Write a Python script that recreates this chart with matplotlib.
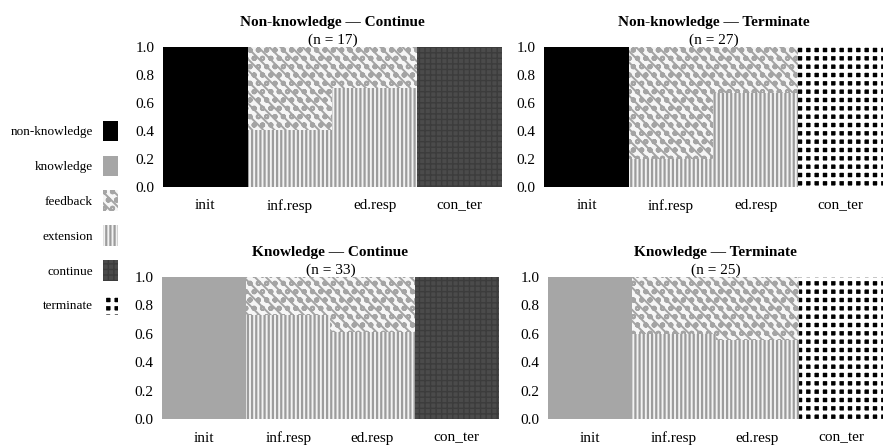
import matplotlib.pyplot as plt
from matplotlib.patches import Patch

plt.rcParams['font.family'] = ['Liberation Serif', 'DejaVu Serif']
plt.rcParams['hatch.linewidth'] = 1.0

# Stages of an exchange and the four groups
stages = ['init', 'inf.resp', 'ed.resp', 'con_ter']
init_type = ['non-knowledge', 'non-knowledge', 'knowledge', 'knowledge']
end_type = ['continue', 'terminate', 'continue', 'terminate']
titles = ['Non-knowledge — Continue', 'Non-knowledge — Terminate',
          'Knowledge — Continue', 'Knowledge — Terminate']
n_counts = [17, 27, 33, 25]

# Share of extension moves in the two response stages (rest is feedback)
ext_inf_resp = [0.41, 0.20, 0.73, 0.60]
ext_ed_resp = [0.71, 0.67, 0.61, 0.56]

# Fill, hatch and hatch width for every category
styles = {
    'non-knowledge': dict(facecolor='black', hatch=None, edgecolor='black', hlw=1.0),
    'knowledge': dict(facecolor='#a6a6a6', hatch=None, edgecolor='#a6a6a6', hlw=1.0),
    'feedback': dict(facecolor='#f6f6f6', hatch='oo\\\\\\', edgecolor='#a4a4a4', hlw=1.4),
    'extension': dict(facecolor='#f2f2f2', hatch='||||', edgecolor='#9c9c9c', hlw=1.6),
    'continue': dict(facecolor='#4b4b4b', hatch='+++', edgecolor='#3c3c3c', hlw=1.0),
    'terminate': dict(facecolor='black', hatch='++', edgecolor='white', hlw=2.8),
}

fig = plt.figure(figsize=(8.89, 4.45), dpi=100)
positions = [
    [0.1834, 0.5798, 0.381, 0.3146],
    [0.612, 0.5798, 0.381, 0.3146],
    [0.1822, 0.0584, 0.379, 0.319],
    [0.6164, 0.0584, 0.377, 0.319],
]


def styled(artist, cat):
    if hasattr(artist, 'set_hatch_linewidth'):
        artist.set_hatch_linewidth(styles[cat]['hlw'])
    return artist


def draw_bar(ax, x, bottom, height, cat):
    st = styles[cat]
    bars = ax.bar(x, height, bottom=bottom, width=1.0, facecolor=st['facecolor'],
                  edgecolor=st['edgecolor'], hatch=st['hatch'], linewidth=0)
    for b in bars:
        styled(b, cat)


for i, pos in enumerate(positions):
    ax = fig.add_axes(pos)
    draw_bar(ax, 0, 0, 1.0, init_type[i])
    draw_bar(ax, 1, 0, ext_inf_resp[i], 'extension')
    draw_bar(ax, 1, ext_inf_resp[i], 1 - ext_inf_resp[i], 'feedback')
    draw_bar(ax, 2, 0, ext_ed_resp[i], 'extension')
    draw_bar(ax, 2, ext_ed_resp[i], 1 - ext_ed_resp[i], 'feedback')
    draw_bar(ax, 3, 0, 1.0, end_type[i])

    ax.set_xlim(-0.5, 3.5)
    ax.set_ylim(0, 1.0)
    ax.set_xticks(range(len(stages)))
    ax.set_xticklabels(stages, fontsize=11)
    ax.set_yticks([0.0, 0.2, 0.4, 0.6, 0.8, 1.0])
    ax.set_yticklabels([f'{v:.1f}' for v in ax.get_yticks()], fontsize=11)
    ax.tick_params(length=0, pad=6)
    ax.tick_params(axis='x', pad=9)
    for s in ax.spines.values():
        s.set_visible(False)
    ax.set_title(titles[i], fontsize=11, fontweight='bold', pad=15)
    ax.text(0.5, 1.0, f'(n = {n_counts[i]})', transform=ax.transAxes,
            ha='center', va='bottom', fontsize=11)

# Legend on the left side
legend_cats = ['non-knowledge', 'knowledge', 'feedback', 'extension',
               'continue', 'terminate']
handles = [styled(Patch(facecolor=styles[c]['facecolor'], edgecolor=styles[c]['edgecolor'],
                        hatch=styles[c]['hatch'], linewidth=0, label=c), c)
           for c in legend_cats]
leg = fig.legend(handles=handles, loc='center left', bbox_to_anchor=(0.0, 0.51),
                 frameon=False, markerfirst=False, fontsize=9.5,
                 handlelength=1.1, handleheight=2.0, labelspacing=1.1,
                 handletextpad=0.8, borderpad=0.3)
for c, h in zip(legend_cats, leg.legend_handles):
    styled(h, c)

plt.savefig('out.png', dpi=100)
